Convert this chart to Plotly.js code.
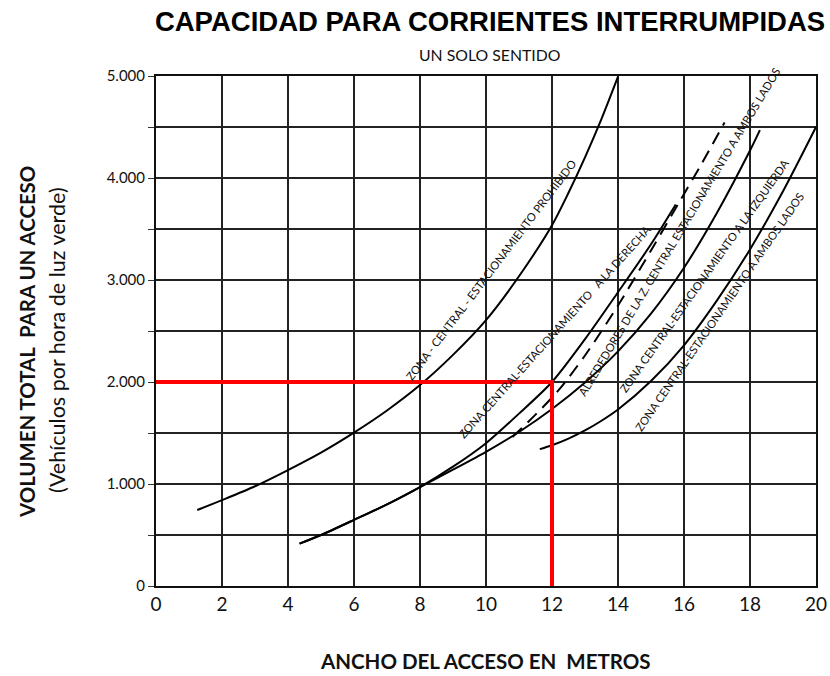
<!DOCTYPE html>
<html>
<head>
<meta charset="utf-8">
<script src="https://cdn.plot.ly/plotly-3.0.1.min.js"></script>
<style>html,body{margin:0;padding:0;background:#fff;}#chart{width:830px;height:676px;}</style>
</head>
<body>
<div id="chart"></div>
<script>
// ---- data ----
const xTicks = [0, 2, 4, 6, 8, 10, 12, 14, 16, 18, 20];
const yTickVals = [0, 1000, 2000, 3000, 4000, 5000];
const yTickText = ['0', '1.000', '2.000', '3.000', '4.000', '5.000'];

const prohibidoX = [1.25, 2, 3, 4, 5, 6, 7, 8, 9, 10, 11, 12, 12.5, 13, 13.5, 14];
const prohibidoY = [745, 842, 978, 1137, 1308, 1504, 1721, 1970, 2266, 2607, 3037, 3537, 3855, 4203, 4580, 4994];

const derechaX = [4.35, 5, 6, 7, 8, 9, 10, 11, 12, 13, 14, 15, 15.75];
const derechaY = [415, 500, 648, 800, 970, 1170, 1400, 1690, 2000, 2420, 2880, 3350, 3740];

const izquierdaX = [4.35, 5, 6, 7, 8, 9, 10, 11, 12, 13, 14, 15, 16, 17, 18, 18.3];
const izquierdaY = [415, 500, 648, 800, 970, 1140, 1315, 1510, 1735, 1995, 2300, 2670, 3120, 3660, 4270, 4470];

const alrededoresX = [10.8, 11.5, 12.2, 13, 14, 15, 15.85, 16.5, 17.23];
const alrededoresY = [1460, 1680, 1920, 2260, 2750, 3290, 3760, 4120, 4545];

const ambosX = [11.63, 12, 12.5, 13, 13.5, 14, 15, 16, 17, 18, 19, 20];
const ambosY = [1342, 1380, 1445, 1525, 1620, 1730, 2010, 2360, 2800, 3300, 3870, 4500];

const ejemploX = [0, 12, 12];
const ejemploY = [2000, 2000, 0];

const curveLabels = [
  'ZONA - CENTRAL - ESTACIONAMIENTO PROHIBIDO',
  'ZONA CENTRAL-ESTACIONAMIENTO   A LA DERECHA',
  'ALREDEDORES DE LA Z. CENTRAL ESTACIONAMIENTO A AMBOS LADOS',
  'ZONA CENTRAL-ESTACIONAMIENTO A LA IZQUIERDA',
  'ZONA CENTRAL-ESTACIONAMIENTO A AMBOS LADOS'
];
const labelX = [10.15, 12.08, 15.86, 16.62, 17.08];
const labelY = [3106, 2493, 3474, 3041, 2689];
const labelAngle = [-52.8, -48.1, -59.0, -54.6, -55.3];

// ---- traces ----
const solid = {color: '#000', width: 2, shape: 'spline', smoothing: 0.8};
const traces = [
  {x: prohibidoX, y: prohibidoY, mode: 'lines', line: solid},
  {x: derechaX, y: derechaY, mode: 'lines', line: solid},
  {x: izquierdaX, y: izquierdaY, mode: 'lines', line: solid},
  {x: alrededoresX, y: alrededoresY, mode: 'lines', line: {color: '#000', width: 2, dash: '13px,8px', shape: 'spline', smoothing: 0.8}},
  {x: ambosX, y: ambosY, mode: 'lines', line: solid},
  {x: ejemploX, y: ejemploY, mode: 'lines', line: {color: '#ff0000', width: 4}}
];

const F = 'Lato, "Open Sans", sans-serif';
const L = 156, T = 76, W = 660, H = 510;
function px(xp) { return (xp - L) / W; }
function py(yp) { return (T + H - yp) / H; }

const annotations = [
  {text: 'UN SOLO SENTIDO', xref: 'paper', yref: 'paper', x: px(489), y: py(55), showarrow: false,
   font: {family: F, size: 15.8, color: '#111'}, xanchor: 'center', yanchor: 'middle'},
  {text: '<b>VOLUMEN TOTAL  PARA UN ACCESO</b>', xref: 'paper', yref: 'paper', x: px(27), y: py(342), showarrow: false,
   textangle: -90, font: {family: F, size: 20.4, color: '#111'}, xanchor: 'center', yanchor: 'middle'},
  {text: '(Vehículos por hora de luz verde)', xref: 'paper', yref: 'paper', x: px(57), y: py(340), showarrow: false,
   textangle: -90, font: {family: F, size: 21.5, color: '#111'}, xanchor: 'center', yanchor: 'middle'},
  {text: '<b>ANCHO DEL ACCESO EN  METROS</b>', xref: 'paper', yref: 'paper', x: px(485), y: py(661), showarrow: false,
   font: {family: F, size: 20.5, color: '#111'}, xanchor: 'center', yanchor: 'middle'}
];
for (let i = 0; i < curveLabels.length; i++) {
  annotations.push({text: curveLabels[i], x: labelX[i], y: labelY[i], xref: 'x', yref: 'y', showarrow: false,
    textangle: labelAngle[i], font: {family: F, size: 11.3, color: '#111'}, xanchor: 'center', yanchor: 'middle'});
}

const layout = {
  width: 830, height: 676,
  margin: {l: L, r: 830 - L - W, t: T, b: 676 - T - H, pad: 0},
  paper_bgcolor: '#fff', plot_bgcolor: '#fff',
  showlegend: false,
  title: {text: '<b>CAPACIDAD PARA CORRIENTES INTERRUMPIDAS</b>', xref: 'container', yref: 'container',
    x: 490 / 830, xanchor: 'center', y: 1 - 21 / 676, yanchor: 'middle',
    font: {family: '"Liberation Sans", Arial, sans-serif', size: 27.5, color: '#000'}},
  xaxis: {range: [0, 20], tickmode: 'array', tickvals: xTicks, ticktext: xTicks.map(String),
    showgrid: true, gridcolor: '#222', gridwidth: 1.5, zeroline: false,
    showline: true, linecolor: '#111', linewidth: 2, mirror: true, ticks: '',
    tickfont: {family: F, size: 19, color: '#111'}, fixedrange: true},
  yaxis: {range: [0, 5000], tickmode: 'array', tickvals: yTickVals, ticktext: yTickText,
    showgrid: true, gridcolor: '#222', gridwidth: 1.5, zeroline: false,
    showline: true, linecolor: '#111', linewidth: 2, mirror: true, ticks: 'outside', ticklen: 6, tickcolor: '#333', tickwidth: 1,
    minor: {dtick: 500, showgrid: true, gridcolor: '#222', gridwidth: 1.5, ticks: 'outside', ticklen: 6, tickcolor: '#333', tickwidth: 1},
    tickfont: {family: F, size: 15, color: '#111'}, fixedrange: true},
  annotations: annotations
};

Plotly.newPlot('chart', traces, layout, {displayModeBar: false, staticPlot: true});
</script>
</body>
</html>
